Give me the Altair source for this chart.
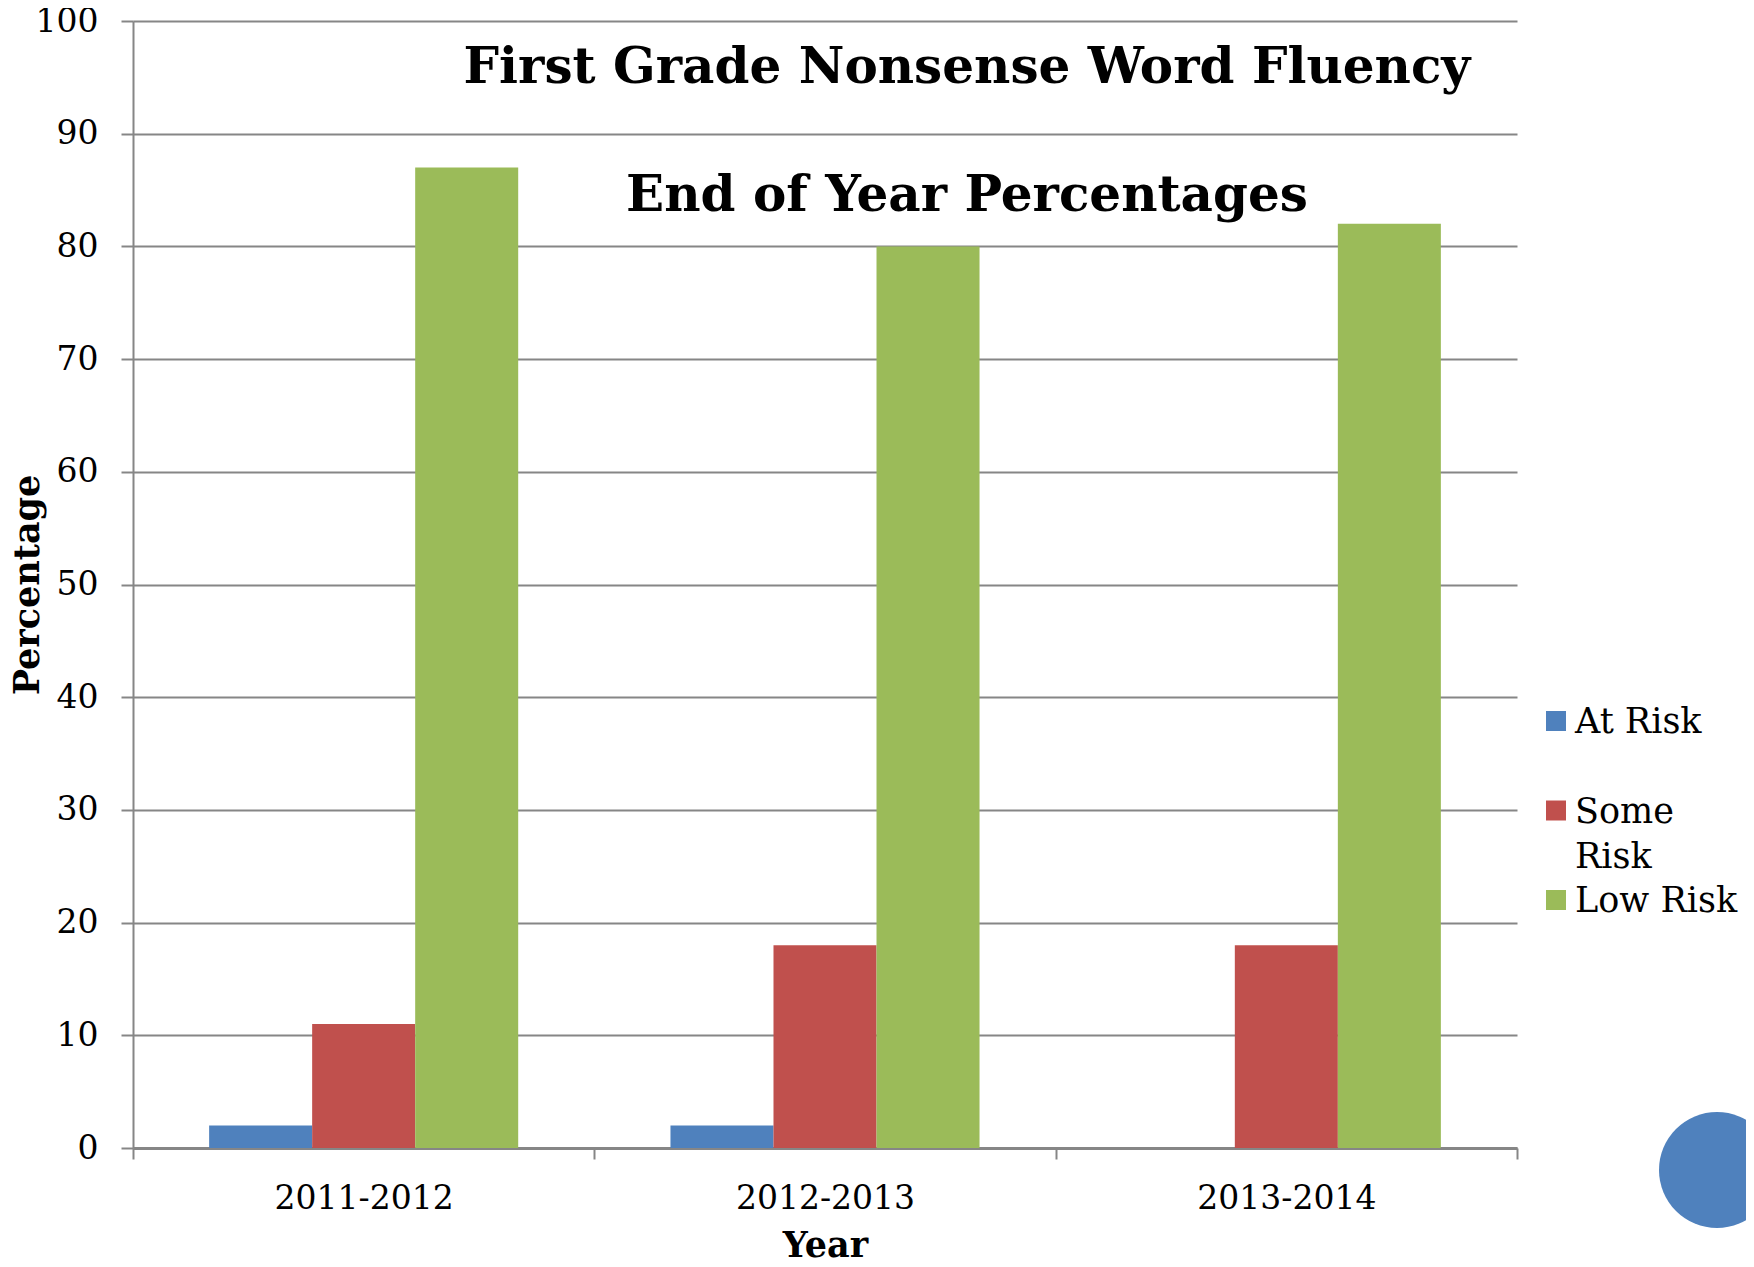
import altair as alt
import pandas as pd

years = ["2011-2012", "2012-2013", "2013-2014"]
series = ["At Risk", "Some Risk", "Low Risk"]
at_risk = [2, 2, 0]
some_risk = [11, 18, 18]
low_risk = [87, 80, 82]
colors = ["#4F81BD", "#C0504D", "#9BBB59"]
y_ticks = [0, 10, 20, 30, 40, 50, 60, 70, 80, 90, 100]
legend_lines = [["At Risk"], ["Some", "Risk"], ["Low Risk"]]
title_line1 = "First Grade Nonsense Word Fluency"
title_line2 = "End of Year Percentages"

rows = []
for i, yr in enumerate(years):
    for s, vals in zip(series, [at_risk, some_risk, low_risk]):
        rows.append({"Year": yr, "Risk": s, "Percentage": vals[i]})
df = pd.DataFrame(rows)
legend_df = pd.DataFrame({"Risk": series, "label": legend_lines})

W, H = 1384, 1127
FONT = "DejaVu Serif"
GRAY = "#868686"
color_scale = alt.Scale(domain=series, range=colors)

bars = alt.Chart(df).mark_bar().encode(
    x=alt.X(
        "Year:N",
        sort=years,
        scale=alt.Scale(paddingInner=0, paddingOuter=0),
        axis=alt.Axis(
            title="Year",
            labelAngle=0,
            tickBand="extent",
            tickSize=11,
            tickWidth=2,
            tickColor=GRAY,
            domainColor=GRAY,
            domainWidth=3,
            labelFont=FONT,
            labelFontSize=33,
            labelColor="black",
            labelPadding=23,
            labelBaseline="top",
            titleFont=FONT,
            titleFontSize=35,
            titleFontWeight="bold",
            titleColor="black",
            titleBaseline="top",
            titleY=80,
            grid=False,
        ),
    ),
    xOffset=alt.XOffset(
        "Risk:N", sort=series, scale=alt.Scale(paddingInner=0, paddingOuter=0.739)
    ),
    y=alt.Y(
        "Percentage:Q",
        scale=alt.Scale(domain=[0, 100], nice=False),
        axis=alt.Axis(
            values=y_ticks,
            title="Percentage",
            tickSize=12,
            tickWidth=2,
            tickColor=GRAY,
            domainColor=GRAY,
            domainWidth=2,
            gridColor=GRAY,
            gridWidth=2,
            labelFont=FONT,
            labelFontSize=33,
            labelColor="black",
            labelPadding=23,
            titleFont=FONT,
            titleFontSize=35,
            titleFontWeight="bold",
            titleColor="black",
            titleX=-106,
            titleY=H / 2,
            titleBaseline="middle",
        ),
    ),
    color=alt.Color("Risk:N", sort=series, scale=color_scale, legend=None),
)

legend_y = alt.Y(
    "Risk:N",
    sort=series,
    scale=alt.Scale(type="point", range=[700, 879], padding=0),
    axis=None,
)

leg_sym = alt.Chart(legend_df).mark_square(size=400, opacity=1).encode(
    x=alt.value(1423),
    y=legend_y,
    color=alt.Color("Risk:N", sort=series, scale=color_scale, legend=None),
)

leg_txt = alt.Chart(legend_df).mark_text(
    font=FONT, fontSize=35, color="black", align="left", baseline="alphabetic",
    lineHeight=45, dy=12,
).encode(
    x=alt.value(1442),
    y=legend_y,
    text="label:N",
)

t1 = alt.Chart(pd.DataFrame({"t": [title_line1]})).mark_text(
    font=FONT, fontSize=50, fontWeight="bold", color="black", align="center", baseline="alphabetic"
).encode(text="t:N", x=alt.value(834), y=alt.value(62))

t2 = alt.Chart(pd.DataFrame({"t": [title_line2]})).mark_text(
    font=FONT, fontSize=50, fontWeight="bold", color="black", align="center", baseline="alphabetic"
).encode(text="t:N", x=alt.value(834), y=alt.value(190))

dot = alt.Chart(pd.DataFrame({"v": [0]})).mark_circle(color="#4F81BD", opacity=1, size=13456).encode(
    x=alt.value(1584), y=alt.value(1149)
)

chart = alt.layer(bars, leg_sym, leg_txt, t1, t2, dot).resolve_scale(
    y="independent"
).properties(
    width=W,
    height=H,
    autosize=alt.AutoSizeParams(type="none"),
    padding={"left": 125, "top": 13, "right": 229, "bottom": 111},
).configure_view(stroke=None).configure_axis(labelOverlap=False)

chart.save("out.html", embed_options={"renderer": "svg", "actions": False})
